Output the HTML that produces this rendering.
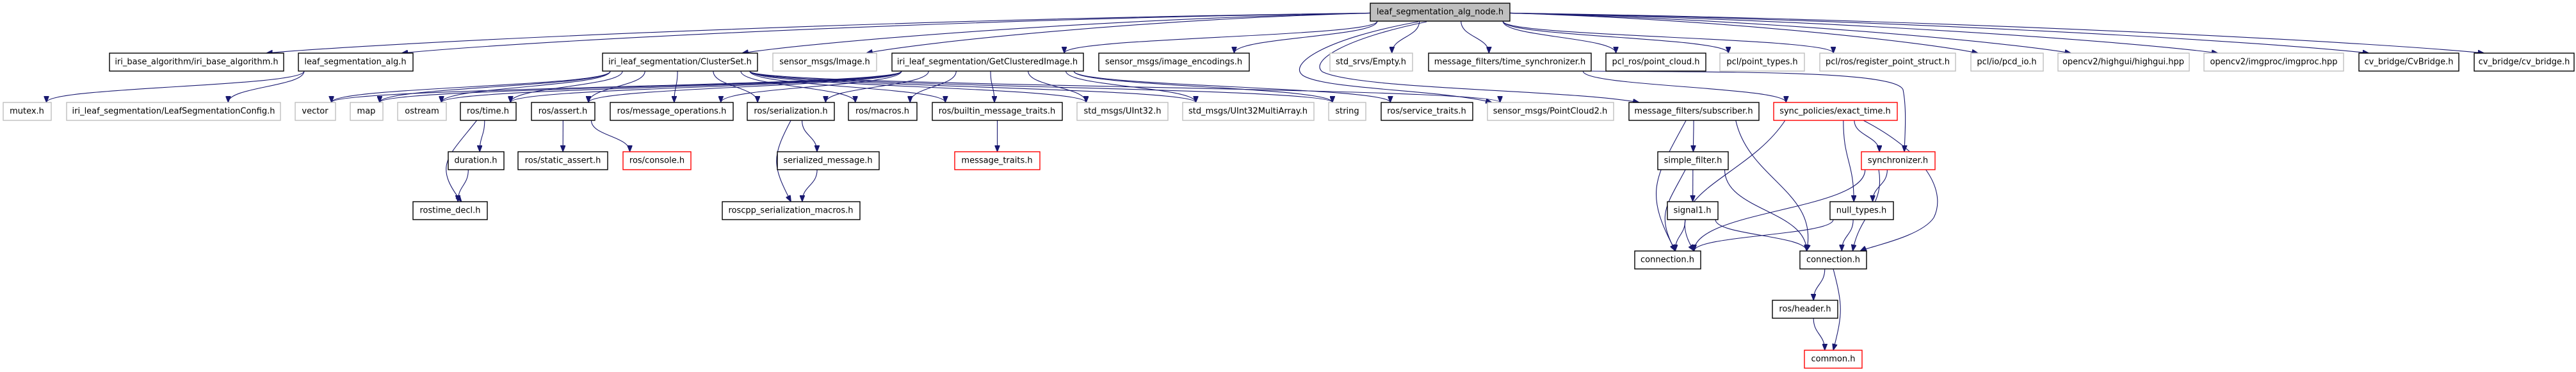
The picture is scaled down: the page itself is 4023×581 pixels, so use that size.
<!DOCTYPE html>
<html><head><meta charset="utf-8">
<style>
html,body{margin:0;padding:0;background:#fff;}
svg{display:block;}
text{font-family:"DejaVu Sans","Liberation Sans",sans-serif;font-size:13px;fill:#000;text-anchor:middle;dominant-baseline:central;}
.b{fill:#fff;stroke:#000;stroke-width:1.4;}
.g{fill:#fff;stroke:#bfbfbf;stroke-width:1.4;}
.r{fill:#fff;stroke:#ff0000;stroke-width:1.4;}
.root{fill:#bfbfbf;stroke:#000;stroke-width:1.4;}
.e{fill:none;stroke:#191970;stroke-width:1.1;}
</style></head><body>
<svg id="s" width="4023" height="581" viewBox="0 0 4023 581" xmlns="http://www.w3.org/2000/svg">
<defs><marker id="a" markerWidth="11" markerHeight="8" refX="10" refY="4" orient="auto" markerUnits="userSpaceOnUse"><path d="M0,0 L10,4 L0,8 z" fill="#191970" stroke="#191970"/></marker></defs>
<g id="edges">
<path class="e" marker-end="url(#a)" d="M2215,34 C2070,60 2010,100 2035,118 C2070,140 2250,140 2330,160"/>
<path class="e" marker-end="url(#a)" d="M2228,34 C2100,60 2045,95 2065,112 C2120,140 2450,140 2560,160"/>
<path class="e" marker-end="url(#a)" d="M2480,111 C2700,113 2960,110 2972,140 C2978,170 2975,210 2974,237"/>
<path class="e" marker-end="url(#a)" d="M2910,188 C3010,240 3040,300 3020,340 C3000,370 2920,385 2905,392"/>
</g>
<g id="edges2"></g>
<g id="nodes">
<rect id="root" class="root" x="2140" y="5" width="218" height="28"/><text x="2249" y="19">leaf_segmentation_alg_node.h</text>

<rect id="iba" class="b" x="171" y="83" width="272" height="28"/><text x="307" y="97">iri_base_algorithm/iri_base_algorithm.h</text>
<rect id="lsa" class="b" x="466" y="83" width="179" height="28"/><text x="555" y="97">leaf_segmentation_alg.h</text>
<rect id="cs" class="b" x="941" y="83" width="242" height="28"/><text x="1062" y="97">iri_leaf_segmentation/ClusterSet.h</text>
<rect id="img" class="g" x="1207" y="83" width="162" height="28"/><text x="1288" y="97">sensor_msgs/Image.h</text>
<rect id="gci" class="b" x="1393" y="83" width="299" height="28"/><text x="1542" y="97">iri_leaf_segmentation/GetClusteredImage.h</text>
<rect id="ie" class="b" x="1716" y="83" width="235" height="28"/><text x="1833" y="97">sensor_msgs/image_encodings.h</text>
<rect id="emp" class="g" x="2077" y="83" width="129" height="28"/><text x="2141" y="97">std_srvs/Empty.h</text>
<rect id="ts" class="b" x="2231" y="83" width="254" height="28"/><text x="2358" y="97">message_filters/time_synchronizer.h</text>
<rect id="pc" class="b" x="2508" y="83" width="156" height="28"/><text x="2586" y="97">pcl_ros/point_cloud.h</text>
<rect id="pt" class="g" x="2686" y="83" width="132" height="28"/><text x="2752" y="97">pcl/point_types.h</text>
<rect id="rps" class="g" x="2842" y="83" width="212" height="28"/><text x="2948" y="97">pcl/ros/register_point_struct.h</text>
<rect id="pcd" class="g" x="3078" y="83" width="113" height="28"/><text x="3134" y="97">pcl/io/pcd_io.h</text>
<rect id="hg" class="g" x="3214" y="83" width="205" height="28"/><text x="3316" y="97">opencv2/highgui/highgui.hpp</text>
<rect id="ip" class="g" x="3442" y="83" width="218" height="28"/><text x="3551" y="97">opencv2/imgproc/imgproc.hpp</text>
<rect id="cvb" class="b" x="3684" y="83" width="156" height="28"/><text x="3762" y="97">cv_bridge/CvBridge.h</text>
<rect id="cvb2" class="b" x="3864" y="83" width="156" height="28"/><text x="3942" y="97">cv_bridge/cv_bridge.h</text>

<rect id="mut" class="g" x="5" y="160" width="75" height="28"/><text x="42" y="174">mutex.h</text>
<rect id="lsc" class="g" x="104" y="160" width="334" height="28"/><text x="271" y="174">iri_leaf_segmentation/LeafSegmentationConfig.h</text>
<rect id="vec" class="g" x="461" y="160" width="63" height="28"/><text x="492" y="174">vector</text>
<rect id="map" class="g" x="547" y="160" width="51" height="28"/><text x="572" y="174">map</text>
<rect id="ost" class="g" x="621" y="160" width="76" height="28"/><text x="659" y="174">ostream</text>
<rect id="tim" class="b" x="719" y="160" width="87" height="28"/><text x="762" y="174">ros/time.h</text>
<rect id="ast" class="b" x="830" y="160" width="99" height="28"/><text x="879" y="174">ros/assert.h</text>
<rect id="mo" class="b" x="953" y="160" width="192" height="28"/><text x="1049" y="174">ros/message_operations.h</text>
<rect id="ser" class="b" x="1167" y="160" width="136" height="28"/><text x="1235" y="174">ros/serialization.h</text>
<rect id="mac" class="b" x="1325" y="160" width="107" height="28"/><text x="1378" y="174">ros/macros.h</text>
<rect id="bmt" class="b" x="1456" y="160" width="203" height="28"/><text x="1557" y="174">ros/builtin_message_traits.h</text>
<rect id="u32" class="g" x="1682" y="160" width="142" height="28"/><text x="1753" y="174">std_msgs/UInt32.h</text>
<rect id="u32m" class="g" x="1847" y="160" width="205" height="28"/><text x="1949" y="174">std_msgs/UInt32MultiArray.h</text>
<rect id="str" class="g" x="2075" y="160" width="58" height="28"/><text x="2104" y="174">string</text>
<rect id="svt" class="b" x="2157" y="160" width="143" height="28"/><text x="2228" y="174">ros/service_traits.h</text>
<rect id="pc2" class="g" x="2323" y="160" width="197" height="28"/><text x="2421" y="174">sensor_msgs/PointCloud2.h</text>
<rect id="sub" class="b" x="2544" y="160" width="203" height="28"/><text x="2645" y="174">message_filters/subscriber.h</text>
<rect id="ext" class="r" x="2770" y="160" width="193" height="28"/><text x="2866" y="174">sync_policies/exact_time.h</text>

<rect id="dur" class="b" x="700" y="237" width="87" height="28"/><text x="743" y="251">duration.h</text>
<rect id="sa" class="b" x="809" y="237" width="140" height="28"/><text x="879" y="251">ros/static_assert.h</text>
<rect id="con" class="r" x="973" y="237" width="106" height="28"/><text x="1026" y="251">ros/console.h</text>
<rect id="sm" class="b" x="1214" y="237" width="159" height="28"/><text x="1293" y="251">serialized_message.h</text>
<rect id="mt" class="r" x="1491" y="237" width="133" height="28"/><text x="1557" y="251">message_traits.h</text>
<rect id="sf" class="b" x="2589" y="237" width="110" height="28"/><text x="2644" y="251">simple_filter.h</text>
<rect id="syn" class="r" x="2907" y="237" width="115" height="28"/><text x="2964" y="251">synchronizer.h</text>

<rect id="rd" class="b" x="645" y="315" width="116" height="28"/><text x="703" y="329">rostime_decl.h</text>
<rect id="rsm" class="b" x="1128" y="315" width="215" height="28"/><text x="1235" y="329">roscpp_serialization_macros.h</text>
<rect id="sig" class="b" x="2604" y="315" width="79" height="28"/><text x="2643" y="329">signal1.h</text>
<rect id="nt" class="b" x="2858" y="315" width="99" height="28"/><text x="2907" y="329">null_types.h</text>

<rect id="cL" class="b" x="2553" y="392" width="103" height="28"/><text x="2604" y="406">connection.h</text>
<rect id="cR" class="b" x="2811" y="392" width="104" height="28"/><text x="2863" y="406">connection.h</text>
<rect id="hdr" class="b" x="2768" y="469" width="102" height="28"/><text x="2819" y="483">ros/header.h</text>
<rect id="cmn" class="r" x="2818" y="547" width="90" height="28"/><text x="2863" y="561">common.h</text>
</g>
</svg>
<script>
(function(){
var E=[
['root','iba'],['root','lsa'],['root','cs'],['root','img'],['root','gci'],['root','ie'],['root','emp'],['root','ts'],['root','pc'],['root','pt'],['root','rps'],['root','pcd'],['root','hg'],['root','ip'],['root','cvb'],['root','cvb2'],
['lsa','mut'],['lsa','lsc'],
['cs','vec'],['cs','map'],['cs','ost'],['cs','tim'],['cs','ast'],['cs','mo'],['cs','ser'],['cs','mac'],['cs','bmt'],['cs','u32'],['cs','u32m'],['cs','str'],['cs','pc2'],
['gci','vec'],['gci','map'],['gci','ost'],['gci','tim'],['gci','ast'],['gci','mo'],['gci','ser'],['gci','mac'],['gci','bmt'],['gci','u32'],['gci','u32m'],['gci','str'],['gci','svt'],
['tim','dur'],['tim','rd',-45],['dur','rd'],['ast','sa'],['ast','con'],['ser','sm'],['ser','rsm',-30],['sm','rsm'],['bmt','mt'],
['ts','ext'],
['sub','cL',-50],['sub','sf'],['sub','cR',20],['sf','sig'],['sf','cL',-30],['sf','cR'],['sig','cL'],['sig','cR'],
['ext','cL',-60],['ext','syn'],['ext','nt'],['syn','nt'],['syn','cR',10],['syn','cL'],['nt','cL'],['nt','cR'],
['cR','hdr'],['cR','cmn',15],['hdr','cmn']
];
function box(id){var r=document.getElementById(id);var x=+r.getAttribute('x'),y=+r.getAttribute('y'),w=+r.getAttribute('width'),h=+r.getAttribute('height');return {x:x,y:y,w:w,h:h,cx:x+w/2};}
function cl(v,a){return Math.max(-a,Math.min(a,v));}
var g=document.getElementById('edges2'),s='';
E.forEach(function(e){
 var a=box(e[0]),b=box(e[1]),bow=e[2];
 var sx=a.cx+cl((b.cx-a.cx)*0.3,a.w*0.45), sy=a.y+a.h;
 var tx=b.cx+cl((a.cx-b.cx)*0.3,b.w*0.4), ty=b.y;
 var d;
 if(e[0]=='root' && Math.abs(tx-sx)>600){
   sx = tx<sx ? a.x : a.x+a.w; sy=a.y+a.h*0.55;
   d='M'+sx+','+sy+' C'+(sx+(tx-sx)*0.45)+','+(sy+10)+' '+(tx+(sx-tx)*0.12)+','+(ty-18)+' '+tx+','+ty;
 } else if(bow!==undefined){
   var h=ty-sy;
   d='M'+sx+','+sy+' C'+(sx+bow)+','+(sy+h*0.45)+' '+(tx+bow)+','+(ty-h*0.45)+' '+tx+','+ty;
 } else {
   var m=(sy+ty)/2;
   d='M'+sx+','+sy+' C'+sx+','+m+' '+tx+','+m+' '+tx+','+ty;
 }
 s+='<path class="e" marker-end="url(#a)" d="'+d+'"/>';
});
g.innerHTML=s;
})();
</script>
</body></html>
